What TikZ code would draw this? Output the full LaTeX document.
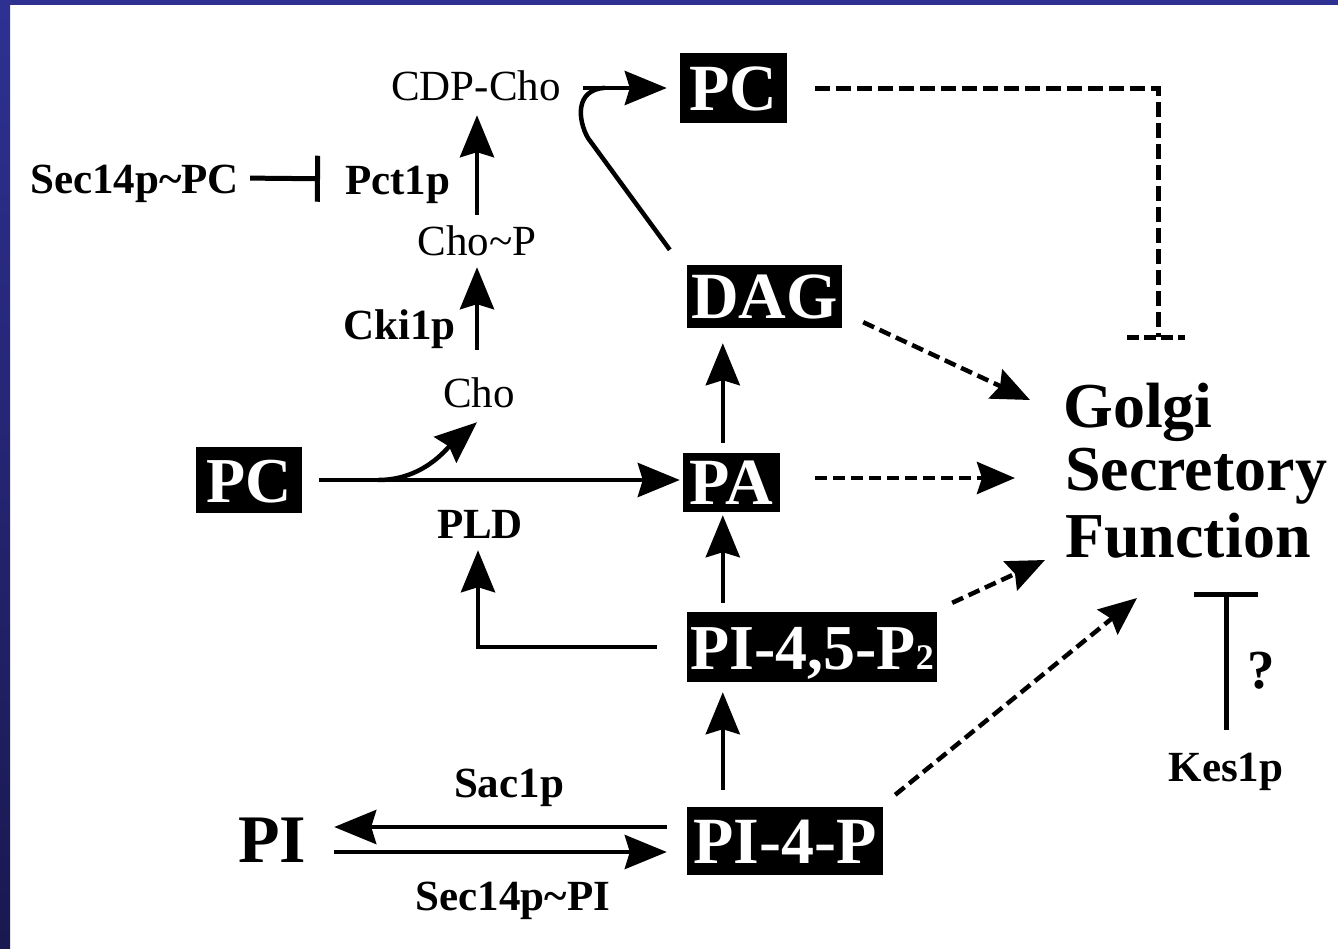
\documentclass[tikz,border=0pt]{standalone}
\usepackage{fontspec}
\setmainfont{Liberation Serif}
\usetikzlibrary{arrows.meta,calc}
\definecolor{navytop}{RGB}{46,49,146}
\definecolor{navybot}{RGB}{26,24,80}
\newcommand{\myfs}[1]{\fontsize{#1}{#1}\selectfont}
\begin{document}
\begin{tikzpicture}[x=1pt,y=-1pt,
  box/.style={fill=black,text=white,font=\myfs{66}\bfseries,inner sep=0pt,text height=44pt,text depth=0pt},
  lab/.style={font=\myfs{43},inner sep=0pt,text height=30pt,text depth=0pt,anchor=base},
  blab/.style={lab,font=\myfs{43}\bfseries},
  big/.style={font=\myfs{64}\bfseries,inner sep=0pt,anchor=base west},
  arr/.style={line width=4.5pt,-{Stealth[length=42pt,width=34pt,inset=5pt]}},
  dsh/.style={line width=4.5pt,dash pattern=on 12pt off 6pt},
  darr/.style={dsh,-{Stealth[length=38pt,width=32pt,inset=5pt]}},
  tbar/.style={line width=5pt,-{Bar[width=#1]}},
]
\useasboundingbox (0,0) rectangle (1338,948);
\fill[white] (0,0) rectangle (1338,948);
\fill[navytop] (0,0) rectangle (1338,5);
\shade[top color=navytop,bottom color=navybot] (0,0) rectangle (10,948);

% boxes
\node[box,minimum width=107pt,minimum height=70pt] (pctop) at (733.5,88) {PC};
\node[box,minimum width=155pt,minimum height=63pt] (dag) at (764.5,296.5) {DAG};
\node[box,minimum width=97pt,minimum height=59pt] (pa) at (731.5,482.5) {PA};
\node[box,minimum width=250pt,minimum height=70pt,font=\myfs{64}\bfseries] (pi45) at (812,647) {PI-4,5-P{\myfs{36}2}};
\node[box,minimum width=196pt,minimum height=68pt] (pi4p) at (785,841) {PI-4-P};
\node[box,minimum width=106pt,minimum height=66pt,font=\myfs{64}\bfseries] (pcl) at (249,480) {PC};

% labels
\node[lab] (cdp) at (476,100) {CDP-Cho};
\node[lab] (chop) at (477,255) {Cho\textasciitilde P};
\node[lab] (cho) at (479,407) {Cho};
\node[blab,anchor=base west] (sec) at (30,193) {Sec14p\textasciitilde PC};
\node[blab,anchor=base west] (pct) at (345,194) {Pct1p};
\node[blab,anchor=base west] (cki) at (343,339) {Cki1p};
\node[blab] (pld) at (480,538) {PLD};
\node[blab] (sac) at (509,797) {Sac1p};
\node[blab] (secpi) at (513,910) {Sec14p\textasciitilde PI};
\node[blab] (kes) at (1226,781) {Kes1p};
\node[font=\myfs{55}\bfseries,inner sep=0pt,anchor=base] (q) at (1261,688) {?};
\node[font=\myfs{68}\bfseries,inner sep=0pt,anchor=base,text height=45pt,text depth=0pt] (pi) at (272,862) {PI};
\node[big] (golgi) at (1063,427) {Golgi};
\node[big] (secr) at (1065,490) {Secretory};
\node[big] (func) at (1065,557) {Function};

% choline branch
\draw[arr,shorten <=27pt,shorten >=12pt] (cho.north -| chop.south) -- (chop.south);
\draw[arr,shorten <=10pt,shorten >=15pt] (chop.north) -- (chop.north |- cdp.south);
\draw[tbar=46pt,shorten <=11pt,shorten >=25pt] (sec.east) -- (pct.west);
\draw[arr,shorten <=22pt,shorten >=13pt] (pctop.west -| cdp.east) -- (pctop.west);
\coordinate (dt) at ($(dag.north west)+(-17,-15)$);
\draw[line width=4.5pt] (dt) -- ($(dt)+(-82,-112)$)
  .. controls ($(dt)+(-92,-130)$) and ($(dt)+(-95,-160)$) .. ($(dt)+(-65,-162)$);

% PC -> PA with Cho branch
\draw[arr,shorten <=17pt,shorten >=3pt] (pcl.east) -- (pcl.east -| pa.west);
\coordinate (br) at ($(pcl.east)!0.2!(pcl.east -| pa.west)$);
\draw[arr] (br) .. controls +(45,0) and ($(cho.south)+(-32,41)$) .. ($(cho.south)+(-2,15)$);

% vertical chain
\coordinate (vx) at ($(pa.west)+(40,0)$);
\draw[arr,shorten <=10pt,shorten >=15pt] (vx |- pa.north) -- (vx |- dag.south);
\draw[arr,shorten <=9pt,shorten >=3pt] (vx |- pi45.north) -- (vx |- pa.south);
\draw[arr,shorten <=17pt,shorten >=10pt] (vx |- pi4p.north) -- (vx |- pi45.south);

% PLD
\draw[arr,shorten >=12pt] ($(pi45.west)+(-30,0)$) -| ($(pld.south)+(-2,0)$);

% PI <-> PI-4-P
\draw[arr,shorten <=20pt,shorten >=28pt] ($(pi4p.west)+(0,-14)$) -- ($(pi4p.west -| pi.east)+(0,-14)$);
\draw[arr,shorten <=28pt,shorten >=20pt] ($(pi4p.west -| pi.east)+(0,11)$) -- ($(pi4p.west)+(0,11)$);

% dashed to Golgi
\coordinate (gT) at ($(golgi.base west)+(95,-90)$);
\draw[line width=5pt,dash pattern=on 15pt off 6pt] ($(pctop.east)+(28,0)$) -| (gT);
\draw[line width=5pt,dash pattern=on 12pt off 5pt] ($(gT)+(-31,0)$) -- ($(gT)+(27,0)$);
\coordinate (g1) at ($(golgi.base west)+(-33,-27)$);
\draw[darr] ($(dag.south east)+(21,-6)$) -- (g1);
\coordinate (g2) at ($(secr.base west)+(-50,-12)$);
\draw[darr] ($(pa.east)+(35,-4.5)$) -- (g2);
\coordinate (g3) at ($(func.base west)+(-20,3)$);
\draw[darr] ($(pi45.north east)+(15,-9)$) -- (g3);
\coordinate (g4) at ($(func.base west)+(72,41)$);
\draw[darr] ($(pi4p.north east)+(12,-12)$) -- (g4);

% Kes1p
\coordinate (kT) at ($(kes.north)+(0,-159)$);
\draw[tbar=64pt,shorten <=21pt] (kes.north) -- (kT);
\end{tikzpicture}
\end{document}
